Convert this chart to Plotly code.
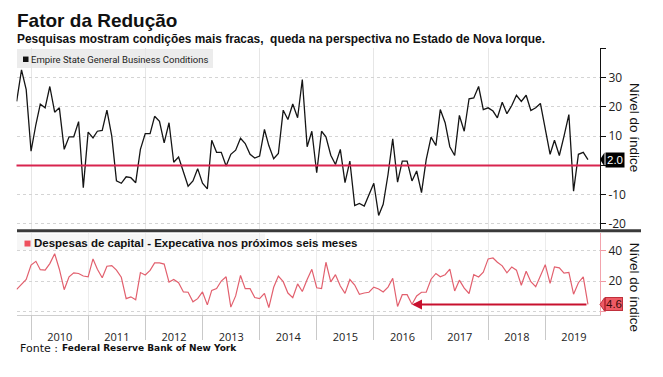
import pandas as pd
import plotly.graph_objects as go

# ---------------- data ----------------
start_month = "2009-09-01"
n_months = 121
dates = list(pd.date_range(start=start_month, periods=n_months, freq="MS") + pd.offsets.MonthEnd(0))

empire_state = [
    21.9, 32.7, 25.9, 4.9, 14, 21, 19.7, 27, 18.2, 19.7, 5.5, 9.8, 9.8, 15, -7.6, 11.4, 9.4, 11.7,
    12, 18.9, 10, -5.3, -6.1, -3.9, -4.2, -5.9, 5.5, 10.9, 10.9, 16.8, 15.1, 7.7, 14.6, 1.1, 2.9,
    -2.5, -7.1, -5.3, -1.1, -6.1, -8, 8.6, 4.5, 4.5, -0.2, 3.8, 5.2, 9.3, 7.5, 3.8, 2.5, 3.2, 12.3,
    6.8, 2.3, 4.1, 18.9, 15.7, 21, 16.3, 29.4, 6.4, 11.7, -2.5, 11.7, 9.8, 3.5,
    0.3, 5.5, -5.9, 1.5, -13.7, -13, -13.9, -9.9, -6.1, -17.1, -13.3, -3.1, 9.1, -5.7, 1.5, 1.5,
    -5.3, -1.9, -9.3, 2, 9.7, 6.8, 19.1, 14.6, 6.4, 3.4, 17.1, 11.7, 22.8, 23.1, 27, 19.1, 19.7,
    18.6, 16.3, 21.6, 17.7, 20.5, 24, 21.9, 24, 18.8, 19.7, 21.2, 12.5, 3.8, 8.6, 3.4, 10, 17.4,
    -8.8, 3.8, 4.5, 2.0,
]

capex_expect = [
    14.5, 17.8, 21, 30.5, 33, 27.5, 27.2, 31.5, 38, 27.8, 14.3, 22.8, 25.4, 25, 23.3, 22.8, 34.6,
    27.8, 22.2, 29.8, 30.2, 27.2, 22.5, 8.4, 9.6, 7.6, 25.6, 24, 27, 32, 32, 31.2, 19.3, 21, 18.9,
    12.8, 12.6, 6.3, 8.4, 12.8, 4.3, 13.8, 15, 20, 22.8, 2.8, 10.2, 23.7, 15, 15, 9.1, 8.4, 11.9,
    2.5, 15.9, 23.3, 19.6, 12.1, 9.1, 18.1, 13.1, 21, 27.7, 15.6, 15, 32.4, 19.5,
    24.2, 16.7, 11.9, 21, 17.4, 11.3, 12.1, 12.6, 16, 14.8, 12.8, 16, 21.8, 3.2, 11, 11, 4.7,
    10.2, 12.6, 12.6, 21.2, 25, 22.8, 24.2, 27.8, 13.5, 20.6, 15.3, 11.8, 24.2, 22.7, 25.9, 34.6,
    35.2, 32.4, 30, 25.4, 29.3, 27.2, 17.2, 26.5, 19.6, 16.3, 23.7, 30.8, 18.4, 29.3, 28.7, 25.2,
    25.7, 11.3, 18.9, 22.8, 4.6,
]

top_ticks = [-20, -10, 0, 10, 20, 30, 40]
top_ticktext = ["-20", "-10", "", "10", "20", "30", ""]
bottom_ticks = [0, 20, 40]
bottom_ticktext = ["", "20", "40"]
arrow_target_date = "2016-08-31"

title = "Fator da Redução"
subtitle = "Pesquisas mostram condições mais fracas,  queda na perspectiva no Estado de Nova Iorque."
name_top = "Empire State General Business Conditions"
name_bottom = "Despesas de capital - Expecativa nos próximos seis meses"
axis_title = "Nível do índice"

# ---------------- layout geometry (pixels -> paper) ----------------
W, H = 663, 377
def px(x):
    return x / W
def py(y):
    return 1 - y / H

XL, XR = 16.5, 600
x_range = ["2009-09-29", "2019-12-16"]

fig = go.Figure()
fig.add_trace(go.Scatter(x=dates, y=empire_state, mode="lines",
                         line=dict(color="#151515", width=1.3),
                         xaxis="x", yaxis="y", showlegend=False, hoverinfo="skip"))
fig.add_trace(go.Scatter(x=dates, y=capex_expect, mode="lines",
                         line=dict(color="#e2606e", width=1.2),
                         xaxis="x2", yaxis="y2", showlegend=False, hoverinfo="skip"))
fig.add_trace(go.Scatter(x=[], y=[], xaxis="x3", yaxis="y3", showlegend=False))

grid_dot = dict(showgrid=True, gridcolor="#d4d4d4", griddash="dot", gridwidth=1)

fig.update_layout(
    width=W, height=H,
    margin=dict(l=0, r=0, t=0, b=0),
    paper_bgcolor="white", plot_bgcolor="white",
    font=dict(family="Arial", color="#222"),
    xaxis=dict(domain=[px(XL), px(XR)], anchor="y", type="date", range=x_range,
               showticklabels=False, ticks="", showline=False, zeroline=False,
               showgrid=True, gridcolor="#e6e6e6", dtick="M24", tick0="2010-01-01"),
    yaxis=dict(domain=[py(231), py(48)], anchor="x", side="right", range=[-21.8, 40.3],
               tickvals=top_ticks, ticktext=top_ticktext, ticks="outside", ticklen=5,
               tickcolor="#111", showline=True, linecolor="#111", linewidth=1,
               zeroline=False, tickfont=dict(family="Open Sans", size=12, color="#222"),
               **grid_dot),
    xaxis2=dict(domain=[px(XL), px(XR)], anchor="y2", type="date", range=x_range,
                dtick="M12", tick0="2010-01-01", ticklabelmode="period",
                ticks="outside", ticklen=11, tickcolor="rgba(0,0,0,0)",
                tickformat="%Y", showline=True, linecolor="#cfcfcf", linewidth=1,
                showgrid=True, gridcolor="#ececec", zeroline=False,
                tickfont=dict(family="Open Sans", size=11, color="#222")),
    yaxis2=dict(domain=[py(318), py(235)], anchor="x2", side="right", range=[-2.7, 51.6],
                tickvals=bottom_ticks, ticktext=bottom_ticktext, ticks="outside", ticklen=5,
                tickcolor="#f09aa4", showline=True, linecolor="#f2a3ac", linewidth=1,
                zeroline=False, tickfont=dict(family="Open Sans", size=12, color="#222"),
                **grid_dot),
    xaxis3=dict(domain=[px(XL), px(XR)], anchor="y3", type="date", range=x_range,
                dtick="M12", tick0="2010-01-01", showticklabels=False, ticks="",
                showline=False, zeroline=False, showgrid=True, gridcolor="#c9c9c9", gridwidth=1),
    yaxis3=dict(domain=[py(343), py(318)], anchor="x3", range=[0, 1], showgrid=False,
                showticklabels=False, ticks="", zeroline=False, showline=False),
)

shapes = []
# red zero line in the top panel
shapes.append(dict(type="line", xref="x domain", yref="y", x0=0, x1=1, y0=0, y1=0,
                   line=dict(color="#d8244f", width=2)))
# dark separator between panels
shapes.append(dict(type="line", xref="paper", yref="paper", x0=px(17), x1=px(641),
                   y0=py(232.5), y1=py(232.5), line=dict(color="#3a3a3a", width=3)))
# legend backgrounds
shapes.append(dict(type="rect", xref="paper", yref="paper", x0=px(17), x1=px(213),
                   y0=py(68.5), y1=py(49.5), fillcolor="#ececec", line=dict(width=0), layer="below"))
shapes.append(dict(type="rect", xref="paper", yref="paper", x0=px(17), x1=px(265),
                   y0=py(252), y1=py(235.5), fillcolor="#f6f6f6", line=dict(width=0), layer="below"))
# legend markers
shapes.append(dict(type="rect", xref="paper", yref="paper", x0=px(23), x1=px(28.5),
                   y0=py(62.5), y1=py(57), fillcolor="#111", line=dict(width=0)))
shapes.append(dict(type="rect", xref="paper", yref="paper", x0=px(24.5), x1=px(30.5),
                   y0=py(248.5), y1=py(242.5), fillcolor="#ee4f5d", line=dict(width=0)))

# value tags (pointer triangles) at last values
top_last = empire_state[-1]
bot_last = capex_expect[-1]
dx = 4.5 / (XR - XL)
shapes.append(dict(type="path", xref="x domain", yref="y",
                   path=f"M 1.0 {top_last} L {1+dx} {top_last + 2.4} L {1+dx} {top_last - 2.4} Z",
                   fillcolor="#000", line=dict(width=0)))
shapes.append(dict(type="path", xref="x2 domain", yref="y2",
                   path=f"M 1.0 {bot_last} L {1+dx} {bot_last + 4.4} L {1+dx} {bot_last - 4.4} Z",
                   fillcolor="#ee5a64", line=dict(color="#c0303c", width=1)))
fig.update_layout(shapes=shapes)

ann = []
ann.append(dict(text=f"<b>{title}</b>", x=px(15), y=py(20.5), xref="paper", yref="paper",
                xanchor="left", yanchor="middle", showarrow=False,
                font=dict(family="Arial", size=19, color="#111")))
ann.append(dict(text=f"<b>{subtitle}</b>", x=px(15), y=py(39.5), xref="paper", yref="paper",
                xanchor="left", yanchor="middle", showarrow=False,
                font=dict(family="Arial", size=11.9, color="#111")))
ann.append(dict(text=name_top, x=px(28.5), y=py(59.5), xref="paper", yref="paper",
                xanchor="left", yanchor="middle", showarrow=False,
                font=dict(family="Roboto", size=9.5, color="#222")))
ann.append(dict(text=f"<b>{name_bottom}</b>", x=px(32), y=py(244.5), xref="paper", yref="paper",
                xanchor="left", yanchor="middle", showarrow=False,
                font=dict(family="Arial", size=11.5, color="#111")))
for yc in (py(128), py(289)):
    ann.append(dict(text=axis_title, x=px(634), y=yc, xref="paper", yref="paper",
                    xanchor="center", yanchor="middle", showarrow=False, textangle=90,
                    font=dict(family="Arial", size=13.5, color="#111")))
ann.append(dict(text="Fonte :", x=px(17.5), y=py(351), xref="paper", yref="paper",
                xanchor="left", yanchor="middle", showarrow=False,
                font=dict(family="DejaVu Sans", size=11, color="#111")))
ann.append(dict(text="<b>Federal Reserve Bank of New York</b>", x=px(60), y=py(351),
                xref="paper", yref="paper", xanchor="left", yanchor="middle", showarrow=False,
                font=dict(family="DejaVu Sans", size=9, color="#111")))
# value tags
ann.append(dict(text=f"{top_last:.1f}", x=1 + dx, y=top_last, xref="x domain", yref="y",
                xanchor="left", yanchor="middle", showarrow=False, bgcolor="#000",
                borderpad=1, font=dict(family="Arial", size=11.5, color="white")))
ann.append(dict(text=f"{bot_last:.1f}", x=1 + dx, y=bot_last, xref="x2 domain", yref="y2",
                xanchor="left", yanchor="middle", showarrow=False, bgcolor="#ee5a64",
                bordercolor="#c0303c", borderwidth=1, borderpad=0,
                font=dict(family="Arial", size=11.5, color="#3a0a0a")))
# arrow back to the 2016 low
ann.append(dict(text="", x=arrow_target_date, y=bot_last, xref="x2", yref="y2",
                ax=dates[-1], ay=bot_last, axref="x2", ayref="y2", showarrow=True,
                arrowhead=2, arrowsize=1, arrowwidth=2, arrowcolor="#c8102e"))
fig.update_layout(annotations=ann)

fig.write_html("out.html", config={"displayModeBar": False},
               post_script="document.body.style.margin='0';")
